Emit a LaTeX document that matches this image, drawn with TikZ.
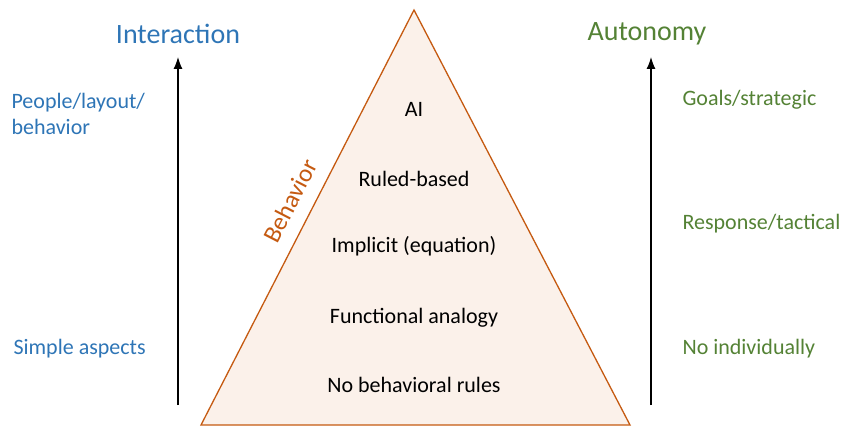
\documentclass[tikz,border=0pt]{standalone}
\usepackage{fontspec}
\setmainfont{Carlito}
\usetikzlibrary{positioning,arrows.meta}
\definecolor{InterBlue}{HTML}{2E75B6}
\definecolor{AutoGreen}{HTML}{548235}
\definecolor{BehOrange}{HTML}{C55A11}
\definecolor{BehFill}{HTML}{FBF1EA}
\begin{document}
\begin{tikzpicture}[x=1pt,y=-1pt,
	level/.style={font=\fontsize{22}{26}\selectfont,text=black},
	side/.style={font=\fontsize{22}{26}\selectfont,anchor=west,align=left},
	head/.style={font=\fontsize{28}{32}\selectfont}]
	\useasboundingbox (0,0) rectangle (842,427);
	\coordinate (Apex)      at (414,10);
	\coordinate (BaseLeft)  at (201,425);
	\coordinate (BaseRight) at (630,425);
	\coordinate (InterMin)  at (178,405);
	\coordinate (InterMax)  at (178,57);
	\coordinate (AutoMin)   at (651,405);
	\coordinate (AutoMax)   at (651,57);

	\filldraw [BehOrange,fill=BehFill,line width=1.3pt,line join=miter] (BaseLeft) -- (Apex) -- (BaseRight) -- cycle;
	\node [BehOrange,font=\fontsize{25}{30}\selectfont,rotate=62.8] (behavior) at (290,201) {Behavior};

	\draw [line width=1.2pt,-{Latex[length=12pt,width=9pt]}] (InterMin) -- (InterMax);
	\draw [line width=1.2pt,-{Latex[length=12pt,width=9pt]}] (AutoMin) -- (AutoMax);
	\node [head,InterBlue] (interaction) at (178,34) {Interaction};
	\node [head,AutoGreen] (autonomy) at (647,34) {Autonomy};

	\node [level] (ai)       at (414,109) {AI};
	\node [level] (rules)    at (414,179) {Ruled-based};
	\node [level] (implicit) at (414,246) {Implicit (equation)};
	\node [level] (func)     at (414,318) {Functional analogy};
	\node [level] (norules)  at (414,385) {No behavioral rules};

	\node [side,InterBlue] (people) at (8,114) {People/layout/\\behavior};
	\node [side,InterBlue] (simple) at (10,349) {Simple aspects};
	\node [side,AutoGreen] (goals)    at (679,100) {Goals/strategic};
	\node [side,AutoGreen] (response) at (679,224) {Response/tactical};
	\node [side,AutoGreen] (noind)    at (679,349) {No individually};
\end{tikzpicture}
\end{document}
